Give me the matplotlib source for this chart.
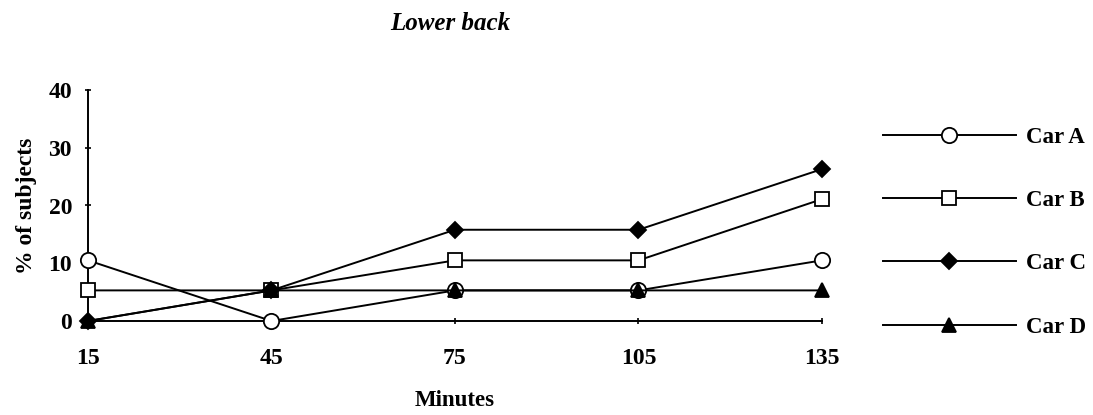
import matplotlib
matplotlib.use("Agg")
from matplotlib import pyplot as plt

minutes = [15, 45, 75, 105, 135]
car_a = [10.5, 0, 5.3, 5.3, 10.5]
car_b = [5.3, 5.3, 10.5, 10.5, 21.1]
car_c = [0, 5.3, 15.8, 15.8, 26.3]
car_d = [0, 5.3, 5.3, 5.3, 5.3]
labels = ["Car A", "Car B", "Car C", "Car D"]
yticks = [0, 10, 20, 30, 40]

plt.rcParams["font.family"] = ["Liberation Serif", "DejaVu Serif"]

fig = plt.figure(figsize=(10.93, 4.15), dpi=100)
ax = fig.add_axes([88 / 1093, 94 / 415, 734 / 1093, 231 / 415])

styles = [
    dict(marker="o", markerfacecolor="white", markersize=11),
    dict(marker="s", markerfacecolor="white", markersize=10),
    dict(marker="D", markerfacecolor="black", markersize=8),
    dict(marker="^", markerfacecolor="black", markersize=10),
]
for vals, lab, st in zip([car_a, car_b, car_c, car_d], labels, styles):
    ax.plot(minutes, vals, color="black", lw=1.4, markeredgecolor="black",
            markeredgewidth=1.3, label=lab, clip_on=False, zorder=3, **st)

ax.set_xlim(15, 135)
ax.set_ylim(0, 40)
ax.set_xticks(minutes)
ax.set_yticks(yticks)
ax.spines["top"].set_visible(False)
ax.spines["right"].set_visible(False)
for s in ["left", "bottom"]:
    ax.spines[s].set_linewidth(1.4)
ax.tick_params(axis="both", direction="inout", length=5, width=1.2,
               labelsize=17)
ax.tick_params(axis="x", pad=17)
ax.tick_params(axis="y", pad=9)
for t in ax.get_yticklabels() + ax.get_xticklabels():
    t.set_fontweight("bold")

ax.set_xlabel("Minutes", fontsize=16.5, fontweight="bold", labelpad=15)
ax.set_ylabel("% of subjects", fontsize=17, fontweight="bold", labelpad=8)
fig.text(450 / 1093, 1 - 24 / 415, "Lower back", fontsize=18,
         fontweight="bold", fontstyle="italic", ha="center", va="center")

leg = ax.legend(loc="upper left", bbox_to_anchor=(883 / 1093, 1 - 127 / 415),
                bbox_transform=fig.transFigure, frameon=False,
                prop=dict(size=16.5, weight="bold"),
                handlelength=5.8, handletextpad=0.45, labelspacing=1.84,
                borderaxespad=0, borderpad=0, numpoints=1)

fig.savefig("out.png", dpi=100)
